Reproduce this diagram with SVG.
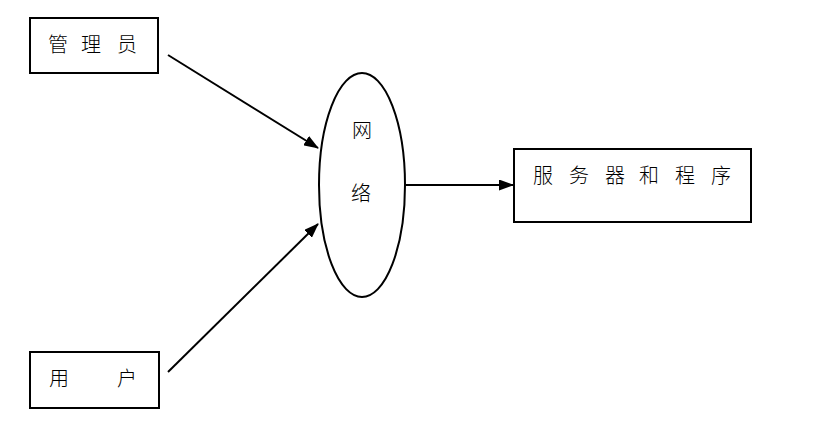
<svg xmlns="http://www.w3.org/2000/svg" width="822" height="422" viewBox="0 0 822 422">
<defs>
<marker id="arr" markerWidth="15" markerHeight="11" refX="14" refY="5.5" orient="auto" markerUnits="userSpaceOnUse">
<path d="M0,0 L15,5.5 L0,11 Z" fill="#000"/>
</marker>
<style>
.box{fill:#fff;stroke:#000;stroke-width:2}
.t{font-family:"Noto Sans CJK SC","Noto Sans CJK JP",sans-serif;font-size:20px;font-weight:300;fill:#000}
.c{stroke:#000;stroke-width:2;fill:none;marker-end:url(#arr)}
</style>
</defs>
<rect width="822" height="422" fill="#fff"/>
<g id="connectors">
<line class="c" x1="168" y1="55" x2="318" y2="148"/>
<line class="c" x1="168" y1="372" x2="318" y2="224"/>
<line class="c" x1="406" y1="185" x2="513" y2="185"/>
</g>
<g id="admin">
<rect class="box" x="30" y="18" width="128" height="55"/>
<text class="t" x="48" y="52">管</text>
<text class="t" x="81" y="52">理</text>
<text class="t" x="117" y="52">员</text>
</g>
<g id="user">
<rect class="box" x="30" y="352" width="129" height="56"/>
<text class="t" x="49" y="386">用</text>
<text class="t" x="117" y="386">户</text>
</g>
<g id="network">
<ellipse cx="362" cy="185" rx="43" ry="112" fill="#fff" stroke="#000" stroke-width="2"/>
<text class="t" x="352" y="138">网</text>
<text class="t" x="351" y="201">络</text>
</g>
<g id="server">
<rect class="box" x="514" y="149" width="237" height="73"/>
<text class="t" x="533" y="183">服</text>
<text class="t" x="569" y="183">务</text>
<text class="t" x="605" y="183">器</text>
<text class="t" x="639" y="183">和</text>
<text class="t" x="675" y="183">程</text>
<text class="t" x="711" y="183">序</text>
</g>
</svg>
